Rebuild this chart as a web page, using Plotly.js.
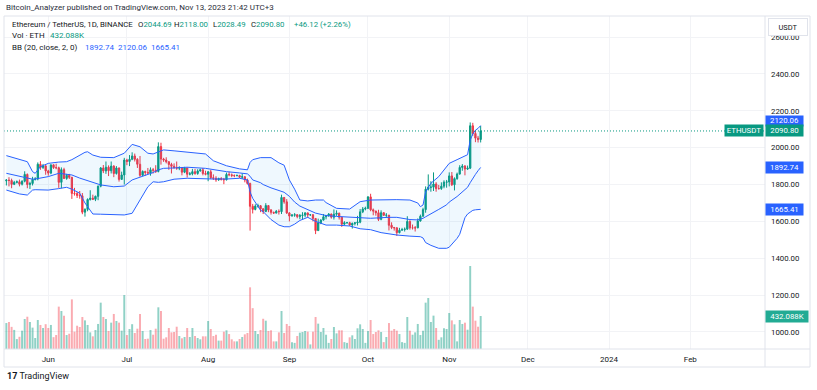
<!DOCTYPE html>
<html><head><meta charset="utf-8">
<script src="https://cdn.plot.ly/plotly-3.0.1.min.js"></script>
<style>html,body{margin:0;padding:0;background:#fff;}#chart{width:817px;height:390px;}</style>
</head><body><div id="chart"></div>
<script>
// ---- DATA (ETH/USDT daily, 2023-05-16 .. 2023-11-13) ----
const START_DATE = '2023-05-16';
const openP = [
1820,1824,1822,1801,1812,1815,1802,1818,1855,1800,1806,1828,1830,1910,1892,1901,
1874,1862,1907,1892,1891,1812,1881,1833,1850,1839,1752,1751,1741,1739,1650,1665,1719,1726,1720,1736,1791,1890,1874,1894,1875,1900,1860,1890,1828,1852,
1933,1925,1937,1955,1937,1910,1850,1871,1866,1862,1880,1878,1871,2006,1938,1933,1924,1909,1899,1892,1889,1892,1867,1890,1856,1858,1870,1860,1874,1880,1860,
1856,1869,1837,1834,1826,1833,1828,1826,1855,1853,1849,1848,1849,1840,1842,1825,1806,1682,1665,1683,1685,1668,1654,1686,1662,1649,1645,1655,1653,1730,1706,
1646,1629,1634,1636,1626,1632,1634,1646,1635,1636,1616,1550,1593,1607,1625,1632,1640,1623,1639,1644,1623,1585,1593,1593,1580,1589,1592,1596,1652,1667,
1671,1733,1663,1656,1647,1611,1647,1633,1634,1579,1567,1565,1539,1552,1556,1558,1600,1565,1565,1565,1602,1628,1664,1775,1785,1786,1803,1778,1778,1791,1813,
1814,1847,1799,1832,1857,1893,1900,1884,1889,2119,2077,2052,2044.69];
const highP = [
1830,1840,1832,1820,1822,1827,1823,1872,1860,1815,1842,1840,1920,1927,1912,1908,
1880,1908,1909,1913,1897,1893,1891,1858,1858,1842,1782,1760,1765,1754,1671,1725,1769,1745,1740,1795,1895,1906,1925,1904,1925,1905,1900,1892,1870,1945,
1940,1960,1975,1968,1943,1955,1877,1875,1890,1893,1890,1905,2029,2027,1945,1948,1926,1918,1915,1925,1899,1895,1896,1891,1868,1885,1885,1883,1886,1890,1875,
1873,1880,1855,1845,1837,1840,1836,1865,1870,1860,1855,1855,1853,1860,1846,1832,1810,1695,1693,1696,1689,1672,1699,1687,1667,1653,1662,1665,1745,1732,1721,
1650,1640,1645,1640,1640,1650,1650,1648,1640,1640,1616,1615,1612,1640,1635,1645,1642,1665,1660,1648,1625,1601,1597,1598,1594,1596,1630,1667,1678,1680,
1737,1750,1670,1658,1663,1660,1650,1645,1635,1595,1570,1568,1565,1565,1567,1628,1606,1583,1575,1616,1637,1674,1790,1855,1818,1866,1813,1798,1812,1823,1825,
1866,1868,1839,1865,1905,1911,1906,1903,2137,2135,2095,2064,2118.00];
const lowP = [
1795,1790,1780,1797,1806,1790,1795,1812,1780,1776,1795,1822,1823,1880,1885,1853,
1848,1856,1885,1883,1782,1780,1830,1826,1830,1722,1740,1727,1723,1639,1626,1655,1713,1716,1710,1715,1785,1862,1858,1846,1860,1840,1854,1816,1826,1800,
1905,1900,1932,1925,1890,1842,1845,1848,1858,1848,1860,1863,1866,1908,1923,1915,1880,1860,1886,1880,1878,1850,1862,1838,1850,1850,1853,1853,1870,1850,1850,
1818,1830,1825,1815,1820,1822,1802,1822,1845,1840,1840,1845,1836,1830,1812,1800,1550,1643,1660,1675,1650,1640,1650,1650,1637,1641,1644,1637,1640,1696,1640,
1600,1627,1625,1617,1612,1610,1622,1620,1630,1600,1531,1550,1585,1605,1611,1625,1615,1610,1630,1610,1570,1580,1588,1575,1561,1578,1578,1590,1645,1660,
1667,1655,1633,1631,1602,1606,1630,1620,1551,1558,1550,1521,1535,1550,1545,1555,1555,1556,1545,1563,1599,1626,1647,1768,1761,1765,1761,1773,1771,1780,1783,
1790,1792,1768,1826,1854,1875,1850,1879,1884,2064,2030,2028,2028.49];
const closeP = [
1824,1822,1801,1812,1815,1802,1818,1855,1800,1806,1828,1830,1910,1892,1901,1874,
1862,1907,1892,1891,1812,1881,1833,1850,1839,1752,1751,1741,1739,1650,1665,1719,1726,1720,1736,1791,1890,1874,1894,1875,1900,1860,1890,1828,1852,1933,
1925,1937,1955,1937,1910,1850,1871,1866,1862,1880,1878,1871,2006,1938,1933,1924,1909,1899,1892,1889,1892,1867,1890,1856,1858,1870,1860,1874,1880,1860,1856,
1869,1837,1834,1826,1833,1828,1826,1855,1853,1849,1848,1849,1840,1842,1825,1806,1682,1665,1683,1685,1668,1654,1686,1662,1649,1645,1655,1653,1730,1706,1646,
1629,1634,1636,1626,1632,1634,1646,1635,1636,1616,1550,1593,1607,1625,1632,1640,1623,1639,1644,1623,1585,1593,1593,1580,1589,1592,1596,1652,1667,1671,
1733,1663,1656,1647,1611,1647,1633,1634,1579,1567,1565,1539,1552,1556,1558,1600,1565,1565,1565,1602,1628,1664,1775,1785,1786,1803,1778,1778,1791,1813,1814,
1847,1799,1832,1857,1893,1900,1884,1889,2119,2077,2052,2044,2090.80];
// volume in thousand ETH
const volumeK = [
340,354,290,250,130,160,240,393,423,354,280,144,380,315,275,325,275,315,155,183,
555,498,437,183,200,650,227,305,288,419,375,315,218,166,249,328,607,419,393,236,
345,459,367,345,240,707,183,262,325,210,266,459,236,131,135,249,187,266,546,498,
135,153,275,218,223,292,170,140,157,275,157,275,170,144,127,166,166,367,262,170,
187,110,110,227,245,196,127,100,100,131,157,192,210,808,535,236,196,249,396,371,
236,245,100,100,218,498,210,328,301,90,80,170,214,223,236,227,60,227,419,332,
223,275,187,80,131,288,205,245,245,90,80,153,179,131,271,323,262,80,236,380,
196,223,245,223,90,157,340,240,262,240,196,90,80,419,240,187,218,328,183,240,
607,668,354,437,275,120,153,271,262,472,375,323,100,380,328,345,253,1087,555,371,
292,432.088];
// Bollinger Bands (20, close, 2)
const bbDates = ['2023-05-16','2023-05-21','2023-05-24','2023-05-26','2023-05-27','2023-05-29','2023-06-01','2023-06-05','2023-06-08','2023-06-10','2023-06-13','2023-06-15','2023-06-16','2023-06-18','2023-06-21','2023-06-26','2023-06-30','2023-07-03','2023-07-06','2023-07-09','2023-07-11','2023-07-13','2023-07-15','2023-07-19','2023-07-24','2023-07-31','2023-08-03','2023-08-08','2023-08-13','2023-08-16','2023-08-17','2023-08-18','2023-08-21','2023-08-22','2023-08-25','2023-08-28','2023-08-30','2023-09-01','2023-09-03','2023-09-05','2023-09-08','2023-09-11','2023-09-14','2023-09-15','2023-09-19','2023-09-24','2023-09-28','2023-10-02','2023-10-06','2023-10-09','2023-10-12','2023-10-17','2023-10-20','2023-10-21','2023-10-22','2023-10-23','2023-10-25','2023-10-28','2023-10-31','2023-11-01','2023-11-04','2023-11-05','2023-11-07','2023-11-08','2023-11-09','2023-11-10','2023-11-11','2023-11-12','2023-11-13'];
const bbUpper = [1957,1937,1924,1870,1861,1897,1915,1922,1924,1935,1960,1975,1978,1960,1948,1946,1970,2018,2005,1970,1966,1975,1988,1983,1975,1966,1929,1902,1885,1880,1920,1935,1946,1946,1946,1918,1905,1825,1775,1716,1711,1716,1716,1702,1671,1667,1707,1716,1718,1720,1718,1716,1700,1680,1689,1760,1807,1843,1895,1915,1935,1942,1955,1962,2040,2075,2095,2105,2120.06];
const bbBasis = [1861,1843,1835,1829,1830,1835,1843,1861,1858,1852,1835,1825,1821,1810,1798,1788,1792,1825,1840,1852,1865,1880,1888,1890,1894,1888,1880,1870,1863,1858,1845,1825,1810,1800,1782,1765,1758,1736,1705,1683,1662,1645,1635,1632,1627,1625,1620,1617,1622,1622,1622,1610,1608,1612,1617,1625,1640,1665,1690,1705,1735,1748,1770,1785,1810,1835,1855,1875,1892.74];
const bbLower = [1770,1749,1743,1770,1772,1770,1770,1778,1785,1775,1753,1700,1680,1640,1639,1636,1635,1644,1716,1788,1815,1812,1815,1829,1834,1829,1830,1830,1834,1825,1760,1725,1660,1653,1610,1580,1571,1571,1585,1605,1622,1600,1585,1580,1580,1575,1560,1555,1539,1532,1526,1520,1517,1517,1510,1485,1470,1454,1454,1460,1508,1530,1620,1640,1650,1660,1663,1664,1665.41];
const monthTicks = ['2023-06-01','2023-07-01','2023-08-01','2023-09-01','2023-10-01','2023-11-01','2023-12-01','2024-01-01','2024-02-01'];
const monthLabels = ['Jun','Jul','Aug','Sep','Oct','Nov','Dec','2024','Feb'];
const priceTicks = [1000,1200,1400,1600,1800,2000,2200,2400,2600];

// ---- build dates ----
const dates = [];
{
  const d0 = new Date(START_DATE + 'T00:00:00Z');
  for (let i = 0; i < closeP.length; i++) {
    const d = new Date(d0.getTime() + i * 86400000);
    dates.push(d.toISOString().slice(0, 10));
  }
}
const UP = '#089981', DN = '#F23645', BLUE = '#2962FF', TXT = '#131722';
const volColors = closeP.map((c, i) => c >= openP[i] ? 'rgba(8,153,129,0.45)' : 'rgba(242,54,69,0.42)');

const traces = [
  {type:'scatter', mode:'lines', x: bbDates, y: bbUpper, line:{color:BLUE, width:1}, hoverinfo:'skip'},
  {type:'scatter', mode:'lines', x: bbDates, y: bbLower, line:{color:BLUE, width:1}, fill:'tonexty', fillcolor:'rgba(33,150,243,0.07)', hoverinfo:'skip'},
  {type:'scatter', mode:'lines', x: bbDates, y: bbBasis, line:{color:BLUE, width:1}, hoverinfo:'skip'},
  {type:'candlestick', x: dates, open: openP, high: highP, low: lowP, close: closeP,
   increasing:{line:{color:UP, width:1}, fillcolor:UP},
   decreasing:{line:{color:DN, width:1}, fillcolor:DN}, whiskerwidth:0, hoverinfo:'skip'},
  {type:'bar', x: dates, y: volumeK, yaxis:'y2', marker:{color: volColors, line:{width:0}}, hoverinfo:'skip'}
];

const L = 4, R = 765, T = 16, B = 349;
const px = x => (x - L) / (R - L);
const py = y => (B - y) / (B - T);
const F = 'Roboto, "Liberation Sans", sans-serif';
const boxFont = {family:F, size:7.8, color:'#fff'};
const txt = (x, y, text, color, size) => ({xref:'paper', yref:'paper', x:px(x), y:py(y), xanchor:'left', yanchor:'middle',
  showarrow:false, text:text, font:{family:F, size:size || 8, color:color || TXT}});

const ann = [
  txt(4, 7.5, 'Bitcoin_Analyzer published on TradingView.com, Nov 13, 2023 21:42 UTC+3', '#2a2e39'),
  txt(10, 25, 'Ethereum / TetherUS, 1D, BINANCE', TXT, 7.8),
  txt(135.5, 25, 'O<span style="color:' + UP + '">2044.69</span>', TXT, 7.8),
  txt(172, 25, 'H<span style="color:' + UP + '">2118.00</span>', TXT, 7.8),
  txt(210.5, 25, 'L<span style="color:' + UP + '">2028.49</span>', TXT, 7.8),
  txt(249, 25, 'C<span style="color:' + UP + '">2090.80</span>', TXT, 7.8),
  txt(292, 25, '+46.12 (+2.26%)', UP, 7.8),
  txt(10, 36, 'Vol · ETH'),
  txt(48, 36, '432.088K', UP),
  txt(10, 47.5, 'BB (20, close, 2, 0)'),
  txt(83, 47.5, '1892.74', BLUE),
  txt(116, 47.5, '2120.06', BLUE),
  txt(149, 47.5, '1665.41', BLUE),
  // price boxes
  {xref:'paper', yref:'y', x:1, y:2120.06, yshift:4.7, xanchor:'left', yanchor:'middle', showarrow:false, text:'2120.06',
   bgcolor:BLUE, font:boxFont, borderpad:0.5, width:36, height:8.5},
  {xref:'paper', yref:'y', x:1, y:2090.8, xanchor:'left', yanchor:'middle', showarrow:false, text:'2090.80',
   bgcolor:UP, font:boxFont, borderpad:0.5, width:36, height:9.5},
  {xref:'paper', yref:'y', x:px(764), y:2090.8, xanchor:'right', yanchor:'middle', showarrow:false, text:'ETHUSDT',
   bgcolor:UP, font:boxFont, borderpad:0.5, width:37, height:9.5},
  {xref:'paper', yref:'y', x:1, y:1892.74, xanchor:'left', yanchor:'middle', showarrow:false, text:'1892.74',
   bgcolor:BLUE, font:boxFont, borderpad:0.5, width:36, height:9.5},
  {xref:'paper', yref:'y', x:1, y:1665.41, xanchor:'left', yanchor:'middle', showarrow:false, text:'1665.41',
   bgcolor:BLUE, font:boxFont, borderpad:0.5, width:36, height:9.5},
  {xref:'paper', yref:'y2', x:1, y:432.088, xanchor:'left', yanchor:'middle', showarrow:false, text:'432.088K',
   bgcolor:'#22ab94', font:boxFont, borderpad:0.5, width:41, height:9.5},
  // USDT box
  {xref:'paper', yref:'paper', x:px(787.5), y:py(26.5), xanchor:'center', yanchor:'middle', showarrow:false, text:'USDT',
   bgcolor:'#fff', bordercolor:'#e0e3eb', borderwidth:1, borderpad:2, width:34, height:12, font:{family:F, size:7.5, color:TXT}},
  // logo
  {xref:'paper', yref:'paper', x:px(5), y:py(376), xanchor:'left', yanchor:'middle', showarrow:false,
   text:'<b>17</b> TradingView', font:{family:F, size:9, color:TXT}}
];

const lineC = '#e0e3eb';
const shapes = [
  {type:'line', xref:'paper', yref:'y', x0:0, x1:1, y0:2090.8, y1:2090.8, line:{color:UP, width:1, dash:'1px,2px'}},
  {type:'rect', xref:'paper', yref:'paper', x0:0, x1:px(810), y0:py(16), y1:py(367), line:{color:lineC, width:1}},
  {type:'line', xref:'paper', yref:'paper', x0:1, x1:1, y0:py(16), y1:py(367), line:{color:lineC, width:1}},
  {type:'line', xref:'paper', yref:'paper', x0:0, x1:px(810), y0:0, y1:0, line:{color:lineC, width:1}}
];

const layout = {
  width:817, height:390, margin:{l:L, r:817-R, t:T, b:390-B},
  paper_bgcolor:'#fff', plot_bgcolor:'#fff', showlegend:false, dragmode:false,
  xaxis:{type:'date', range:['2023-05-15 02:24', '2024-02-29 12:00'], rangeslider:{visible:false},
    tickvals: monthTicks, ticktext: monthLabels, showgrid:true, gridcolor:'#f2f3f6', gridwidth:1,
    ticks:'', showline:false, zeroline:false, tickfont:{family:F, size:8, color:TXT}, ticklabelstandoff:4},
  yaxis:{range:[907.5, 2714.7], side:'right', tickvals: priceTicks, tickformat:'.2f', showgrid:true, gridcolor:'#f2f3f6',
    ticks:'', showline:false, zeroline:false, tickfont:{family:F, size:7.8, color:TXT}, ticklabelstandoff:5},
  yaxis2:{overlaying:'y', range:[0, 4362], visible:false, showgrid:false, zeroline:false},
  bargap:0.25,
  annotations: ann, shapes: shapes
};
Plotly.newPlot('chart', traces, layout, {staticPlot:true, displayModeBar:false});
</script></body></html>
